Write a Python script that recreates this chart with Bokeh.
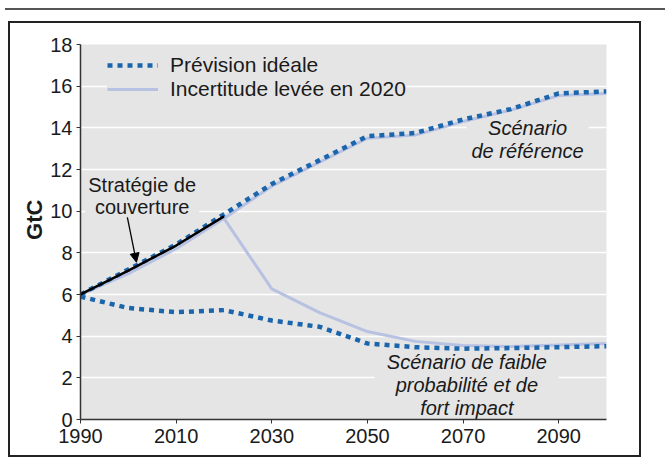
from bokeh.plotting import figure
from bokeh.models import (Label, Arrow, NormalHead, Legend, LegendItem, Div,
                          FixedTicker, Range1d)
from bokeh.layouts import column
from bokeh.embed import file_html
from bokeh.resources import INLINE

# ---- data (GtC) ----
years = [1990, 2000, 2010, 2020, 2030, 2040, 2050, 2060, 2070, 2080, 2090, 2100]
ideal_ref = [6.0, 7.2, 8.4, 9.85, 11.3, 12.45, 13.6, 13.75, 14.4, 14.9, 15.65, 15.75]
ideal_low = [5.9, 5.35, 5.15, 5.25, 4.75, 4.45, 3.65, 3.47, 3.4, 3.43, 3.47, 3.52]
learn_ref = [6.0, 7.0, 8.2, 9.65, 11.2, 12.35, 13.5, 13.65, 14.3, 14.85, 15.55, 15.65]
learn_low_years = [2020, 2030, 2040, 2050, 2060, 2070, 2080, 2090, 2100]
learn_low = [9.65, 6.27, 5.13, 4.22, 3.75, 3.55, 3.5, 3.58, 3.65]
hedge_years = [1990, 2000, 2010, 2020]
hedge = [6.0, 7.15, 8.35, 9.75]

x_ticks = [1990, 2010, 2030, 2050, 2070, 2090]
y_ticks = [0, 2, 4, 6, 8, 10, 12, 14, 16, 18]

FONT = "Liberation Sans"
DOT = "#1a65ab"
LIGHT = "#b7c1e2"

p = figure(width=633, height=436, x_range=Range1d(1990, 2100), y_range=Range1d(0, 18),
           output_backend="svg", toolbar_location=None,
           min_border_left=70, min_border_right=37, min_border_top=21, min_border_bottom=40,
           styles={"border": "2px solid #222"}, margin=(6, 0, 0, 8))

p.background_fill_color = "#e5e5e5"
p.outline_line_color = None
p.xgrid.visible = False
p.ygrid.grid_line_color = "white"
p.ygrid.grid_line_width = 1.5

p.xaxis.ticker = FixedTicker(ticks=x_ticks)
p.yaxis.ticker = FixedTicker(ticks=y_ticks)
for ax in (p.xaxis[0], p.yaxis[0]):
    ax.axis_line_color = "#333333"
    ax.axis_line_width = 1.5
    ax.major_tick_line_color = "#333333"
    ax.major_tick_out = 4
    ax.major_tick_in = 0
    ax.minor_tick_line_color = None
    ax.major_label_text_font = FONT
    ax.major_label_text_font_size = "20px"
    ax.major_label_text_color = "#1a1a1a"
p.xaxis.major_label_standoff = 5
p.yaxis.major_label_standoff = 4
p.yaxis.axis_label = "\u00a0\u00a0\u00a0\u00a0GtC"
p.yaxis.axis_label_text_font = FONT
p.yaxis.axis_label_text_font_style = "bold"
p.yaxis.axis_label_text_font_size = "22px"
p.yaxis.axis_label_text_color = "#1a1a1a"
p.yaxis.axis_label_standoff = 0

r_light = p.line(years, learn_ref, line_color=LIGHT, line_width=3)
p.line(learn_low_years, learn_low, line_color=LIGHT, line_width=3)
r_dot = p.line(years, ideal_ref, line_color=DOT, line_width=4.5, line_dash="5 5")
p.line(years, ideal_low, line_color=DOT, line_width=4.5, line_dash="5 5")
p.line(hedge_years, hedge, line_color="black", line_width=2.5)

legend = Legend(items=[LegendItem(label="Prévision idéale", renderers=[r_dot]),
                       LegendItem(label="Incertitude levée en 2020", renderers=[r_light])],
                location=(27, 318), margin=0, padding=6, spacing=-10,
                background_fill_color="#e5e5e5", background_fill_alpha=1.0,
                border_line_color=None, glyph_width=51, glyph_height=20,
                label_height=20, label_standoff=12,
                label_text_font=FONT, label_text_font_size="21px",
                label_text_color="#1a1a1a")
p.add_layout(legend)

p.add_layout(Arrow(x_start=1999.8, y_start=9.7, x_end=2001.7, y_end=7.55,
                   line_color="black", line_width=1.3,
                   end=NormalHead(size=9, fill_color="black", line_color="black")))

common = dict(text_font=FONT, text_font_size="20px", text_color="#1a1a1a",
              text_align="center", text_baseline="middle", level="underlay",
              background_fill_color="#e5e5e5", background_fill_alpha=1.0)
p.add_layout(Label(x=2002.9, y=10.73, text="Stratégie de\ncouverture", padding=3,
                   text_line_height=1.0, **common))
p.add_layout(Label(x=2083.5, y=13.45, text="Scénario\nde référence", padding=5,
                   text_line_height=1.05, text_font_style="italic", **common))
p.add_layout(Label(x=2070.8, y=1.65, text="Scénario de faible\nprobabilité et de\nfort impact",
                   padding=12, text_line_height=1.05, text_font_style="italic", **common))

top_rule = Div(text="", width=665, height=5, styles={"border-bottom": "2px solid #555"})
layout = column(top_rule, p)

open("out.html", "w").write(file_html(layout, INLINE))
